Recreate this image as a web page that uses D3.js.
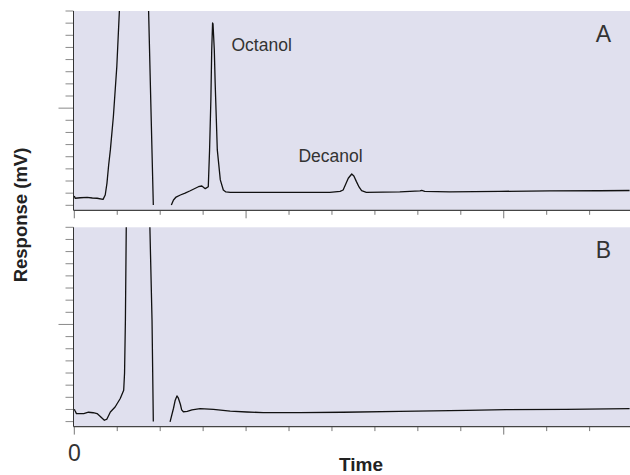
<!DOCTYPE html>
<html>
<head>
<meta charset="utf-8">
<script src="https://cdn.jsdelivr.net/npm/d3@7"></script>
<style>
  body { margin: 0; background: #fff; }
  svg text { font-family: "Liberation Sans", Arial, sans-serif; }
</style>
</head>
<body>
<div id="chart"></div>
<script>
// chromatogram traces, [time, response]
// values above 16 run off the top of the panel (clipped)
const traceA1 = [[0, 0.77], [0.02, 0.58], [0.14, 0.62], [0.30, 0.66], [0.42, 0.60], [0.53, 0.58], [0.67, 0.49],
  [0.72, 0.85], [0.76, 1.81], [0.80, 3.32], [0.84, 4.56], [0.91, 7.31], [0.99, 11.43], [1.05, 16.02], [1.10, 20],
  [1.70, 20], [1.73, 16.02], [1.78, 8.68], [1.84, 0.02]];
const traceA2 = [[2.26, 0.02], [2.31, 0.44], [2.37, 0.68], [2.47, 0.85], [2.58, 1.01], [2.70, 1.20], [2.89, 1.53],
  [2.97, 1.59], [3.05, 1.37], [3.12, 1.53], [3.15, 4.56], [3.18, 8.68], [3.20, 12.81], [3.22, 15.01], [3.23, 14.95],
  [3.26, 12.81], [3.28, 10.09], [3.33, 4.56], [3.40, 2.09], [3.47, 1.26], [3.53, 1.10], [3.63, 1.07], [4.33, 1.07],
  [5.26, 1.06], [5.95, 1.07], [6.19, 1.14], [6.26, 1.26], [6.38, 2.23], [6.46, 2.58], [6.51, 2.42], [6.57, 1.95],
  [6.63, 1.51], [6.69, 1.20], [6.80, 1.07], [7.58, 1.10], [8.05, 1.18], [8.09, 1.22], [8.16, 1.15], [8.74, 1.11],
  [9.91, 1.15], [11.07, 1.18], [12.23, 1.20], [12.93, 1.22]];
const traceB1 = [[0, 1.02], [0.02, 0.87], [0.05, 0.66], [0.22, 0.66], [0.33, 0.77], [0.44, 0.73], [0.53, 0.66],
  [0.60, 0.44], [0.70, 0.11], [0.76, 0.21], [0.84, 0.79], [0.95, 1.20], [1.07, 1.90], [1.15, 2.58], [1.17, 3.98],
  [1.19, 8.35], [1.21, 16.02], [1.22, 20], [1.74, 20], [1.76, 16.02], [1.81, 8.35], [1.84, 0.0]];
const traceB2 = [[2.23, -0.02], [2.31, 1.10], [2.35, 1.76], [2.39, 2.11], [2.42, 1.96], [2.47, 1.43], [2.50, 0.97],
  [2.54, 0.81], [2.63, 0.85], [2.74, 0.97], [2.93, 1.07], [3.24, 1.01], [3.63, 0.87], [4.02, 0.79], [4.40, 0.74],
  [5.26, 0.74], [6.26, 0.77], [7.58, 0.85], [9.13, 0.93], [10.06, 0.99], [11.46, 1.01], [12.93, 1.07]];

const panelNames = ["A", "B"];
const xTicks = d3.range(0, 14);
const yTicks = d3.range(0, 17);
const xMajorA = [0, 4, 10];
const xMajorB = [0, 10];
const yMajor = [8];
const peakLabels = [{name: "Octanol", t: 3.66, v: 12.7}, {name: "Decanol", t: 5.22, v: 3.6}];

const W = 630, H = 475;
const left = 73.5, right = 630;
const panelTops = [11, 227.3];
const tickSpan = 194.3, axisGap = 5;

const svg = d3.select("#chart").append("svg")
  .attr("width", W).attr("height", H);

const x = d3.scaleLinear().domain([0, 12.94]).range([74.3, right]);

const panels = [
  {name: panelNames[0], traces: [traceA1, traceA2], xMajor: xMajorA, labels: peakLabels},
  {name: panelNames[1], traces: [traceB1, traceB2], xMajor: xMajorB, labels: []}
];

panels.forEach((p, i) => {
  const top = panelTops[i];
  const bottom = top + tickSpan;
  const axisY = bottom + axisGap;
  const y = d3.scaleLinear().domain([0, 16]).range([bottom, top]);

  const g = svg.append("g");

  g.append("rect")
    .attr("x", left).attr("y", top)
    .attr("width", right - left).attr("height", axisY - top)
    .attr("fill", "#e0e0ee");

  const clipId = "clip" + i;
  svg.append("clipPath").attr("id", clipId)
    .append("rect")
    .attr("x", left).attr("y", top)
    .attr("width", right - left).attr("height", axisY - top);

  // y ticks
  g.selectAll(".ytick").data(yTicks).enter().append("line")
    .attr("x1", d => yMajor.includes(d) ? left - 15 : left - 8)
    .attr("x2", left)
    .attr("y1", d => y(d)).attr("y2", d => y(d))
    .attr("stroke", "#8a8a8a").attr("stroke-width", 1);

  // x ticks
  g.selectAll(".xtick").data(xTicks).enter().append("line")
    .attr("x1", d => x(d)).attr("x2", d => x(d))
    .attr("y1", axisY)
    .attr("y2", d => p.xMajor.includes(d) ? axisY + 8 : axisY + 4.5)
    .attr("stroke", "#777").attr("stroke-width", 1);

  // axis lines
  g.append("line")
    .attr("x1", left).attr("x2", right)
    .attr("y1", axisY).attr("y2", axisY)
    .attr("stroke", "#444").attr("stroke-width", 1.3);
  g.append("line")
    .attr("x1", left).attr("x2", left)
    .attr("y1", top).attr("y2", axisY)
    .attr("stroke", "#333").attr("stroke-width", 1);

  const line = d3.line().x(d => x(d[0])).y(d => y(d[1]));
  g.append("g").attr("clip-path", `url(#${clipId})`)
    .selectAll("path").data(p.traces).enter().append("path")
    .attr("d", line)
    .attr("fill", "none")
    .attr("stroke", "#111")
    .attr("stroke-width", 1.3)
    .attr("stroke-linejoin", "round");

  g.selectAll(".peak").data(p.labels).enter().append("text")
    .attr("x", d => x(d.t)).attr("y", d => y(d.v))
    .attr("font-size", "17.5px").attr("fill", "#333")
    .text(d => d.name);

  g.append("text")
    .attr("x", 603.5).attr("y", top + 31)
    .attr("text-anchor", "middle")
    .attr("font-size", "23px").attr("fill", "#333")
    .text(p.name);
});

svg.append("text")
  .attr("x", x(0)).attr("y", 460.5)
  .attr("text-anchor", "middle")
  .attr("font-size", "23px").attr("fill", "#333")
  .text("0");

svg.append("text")
  .attr("x", 361).attr("y", 470.5)
  .attr("text-anchor", "middle")
  .attr("font-size", "19px").attr("font-weight", "bold").attr("fill", "#222")
  .text("Time");

svg.append("text")
  .attr("transform", "translate(27,215) rotate(-90)")
  .attr("text-anchor", "middle")
  .attr("font-size", "18.5px").attr("font-weight", "bold").attr("fill", "#222")
  .text("Response (mV)");
</script>
</body>
</html>
